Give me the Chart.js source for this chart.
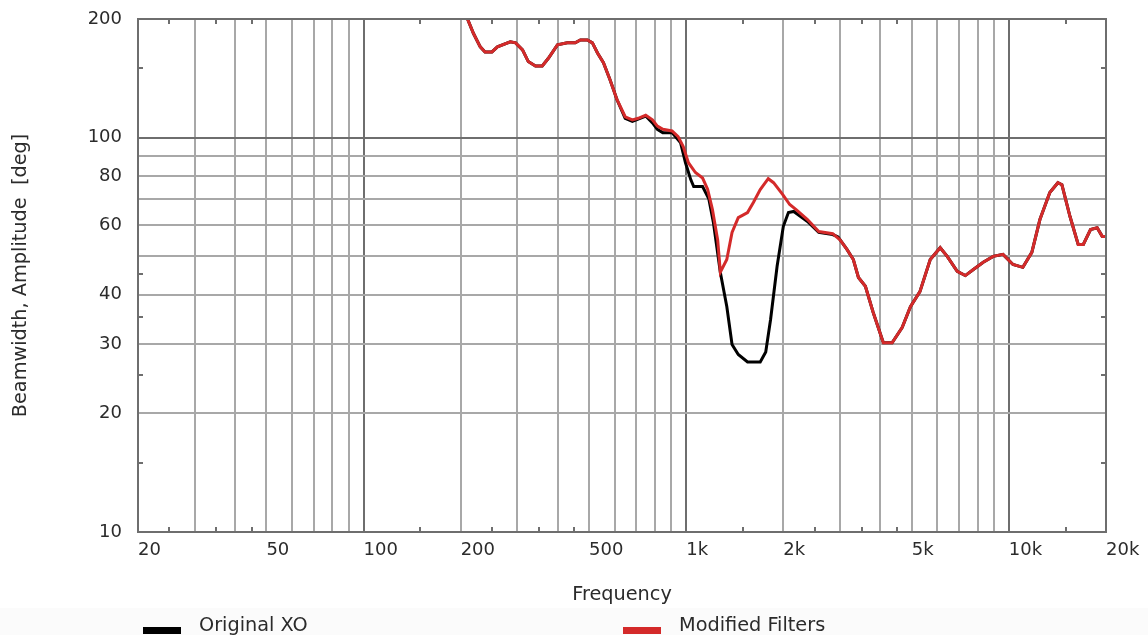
<!DOCTYPE html>
<html>
<head>
<meta charset="utf-8">
<script src="https://cdn.jsdelivr.net/npm/chart.js@4/dist/chart.umd.min.js"></script>
<style>
  body { margin: 0; background: #fff; }
  canvas { display: block; }
</style>
</head>
<body>
<canvas id="c" width="1148" height="635"></canvas>
<script>
// frequency grid / labels
var xGrid = [20, 30, 40, 50, 60, 70, 80, 90, 100, 200, 300, 400, 500, 600, 700, 800, 900,
  1000, 2000, 3000, 4000, 5000, 6000, 7000, 8000, 9000, 10000, 20000];
var xLabels = { 20: "20", 50: "50", 100: "100", 200: "200", 500: "500", 1000: "1k",
  2000: "2k", 5000: "5k", 10000: "10k", 20000: "20k" };
var xMinor = [25, 35, 45, 150, 250, 350, 450, 1500, 2500, 3500, 4500, 15000];

var yGrid = [10, 20, 30, 40, 50, 60, 70, 80, 90, 100, 200];
var yLabels = { 10: "10", 20: "20", 30: "30", 40: "40", 60: "60", 80: "80", 100: "100", 200: "200" };
var yMinor = [15, 25, 35, 45, 150];

// Modified Filters (red)
var redFreq = [207, 219, 230, 238, 250, 260, 285, 296, 311, 324, 341, 358, 374, 399, 428, 453, 470,
  494, 512, 531, 554, 581, 610, 647, 681, 710, 749, 786, 814, 847, 904, 944, 979, 1016, 1068,
  1124, 1165, 1206, 1252, 1276, 1336, 1387, 1450, 1549, 1615, 1696, 1796, 1865, 1992, 2093,
  2191, 2376, 2575, 2845, 2997, 3149, 3296, 3418, 3592, 3796, 4083, 4346, 4669, 4954, 5301,
  5706, 6126, 6440, 6918, 7328, 7762, 8328, 8940, 9591, 10296, 11050, 11780, 12480, 13395,
  14190, 14600, 15470, 16400, 17010, 17910, 18780, 19470, 20000];
var redVal = [206, 184, 170, 165, 165, 170, 175, 174, 167, 156, 152, 152, 159, 172, 174, 174, 177,
  177, 174, 164, 155, 140, 125, 113, 111, 112, 114, 111, 107, 105, 104, 100.6, 95, 86.4, 81.6,
  79, 74, 65.7, 55, 45.6, 49.1, 57.5, 62.7, 64.6, 68.5, 73.9, 78.7, 76.9, 71.7, 67.7,
  65.7, 62.0, 57.8, 57.1, 55.1, 52.1, 49.1, 44.2, 42.0, 36.1, 30.2, 30.2, 33.0, 37.3, 40.7,
  49.1, 52.6, 50.0, 45.8, 44.7, 46.3, 48.3, 50.0, 50.6, 47.7, 46.9, 51.2, 62.0, 72.6,
  76.9, 76, 63.1, 53.6, 53.6, 58.5, 59.1, 56.2, 56.2];

// Original XO (black)
var blackFreq = [207, 219, 230, 238, 250, 260, 285, 296, 311, 324, 341, 358, 374, 399, 428, 453, 470,
  494, 512, 531, 554, 581, 610, 647, 681, 710, 749, 786, 814, 846, 904, 961, 995, 1033, 1055,
  1124, 1175, 1214, 1276, 1336, 1387, 1450, 1549, 1696, 1764, 1826, 1913, 2000, 2074, 2154,
  2376, 2575, 2845, 2955, 3149, 3296, 3418, 3592, 3796, 4083, 4346, 4669, 4954, 5301,
  5706, 6126, 6440, 6918, 7328, 7762, 8328, 8940, 9591, 10296, 11050, 11780, 12480, 13395,
  14190, 14600, 15470, 16400, 17010, 17910, 18780, 19470, 20000];
var blackVal = [206, 184, 170, 165, 165, 170, 175, 174, 167, 156, 152, 152, 159, 172, 174, 174, 177,
  177, 174, 164, 155, 140, 125, 112, 110, 111.5, 113.5, 109, 105, 103, 103, 97, 86.4, 78.3, 75.2,
  75.2, 70, 61, 45.5, 37.3, 29.9, 28.2, 27.0, 27.0, 28.6, 34.6, 47.2, 59.6, 64.6, 65.0,
  61.3, 57.5, 56.8, 56, 52.1, 49.1, 44.2, 42.0, 36.1, 30.2, 30.2, 33.0, 37.3, 40.7,
  49.1, 52.6, 50.0, 45.8, 44.7, 46.3, 48.3, 50.0, 50.6, 47.7, 46.9, 51.2, 62.0, 72.6,
  76.9, 76, 63.1, 53.6, 53.6, 58.5, 59.1, 56.2, 56.2];

var FONT = "'DejaVu Sans', Verdana, sans-serif";
var TEXT = "#2b2b2b";

function toPoints(fs, vs) {
  return fs.map(function (f, i) { return { x: f, y: vs[i] }; });
}
function isDecade(v) {
  var l = Math.log10(v);
  return Math.abs(l - Math.round(l)) < 1e-6;
}
function gridColor(c) {
  return c.tick && isDecade(c.tick.value) ? "#6e6e6e" : "#a8a8a8";
}

var extras = {
  id: "extras",
  beforeDraw: function (chart) {
    var ctx = chart.ctx;
    ctx.save();
    ctx.fillStyle = "#fbfbfb";
    ctx.fillRect(0, 608, chart.width, chart.height - 608);
    ctx.restore();
  },
  afterDraw: function (chart) {
    var ctx = chart.ctx, a = chart.chartArea, x = chart.scales.x, y = chart.scales.y;
    ctx.save();
    ctx.strokeStyle = "#6e6e6e";
    ctx.lineWidth = 2;
    ctx.beginPath();
    xMinor.forEach(function (v) {
      var px = Math.round(x.getPixelForValue(v));
      ctx.moveTo(px, a.bottom); ctx.lineTo(px, a.bottom - 5);
      ctx.moveTo(px, a.top); ctx.lineTo(px, a.top + 5);
    });
    yMinor.forEach(function (v) {
      var py = Math.round(y.getPixelForValue(v));
      ctx.moveTo(a.left, py); ctx.lineTo(a.left + 5, py);
      ctx.moveTo(a.right, py); ctx.lineTo(a.right - 5, py);
    });
    ctx.stroke();
    ctx.strokeRect(a.left, a.top, a.right - a.left, a.bottom - a.top);

    // legend
    var items = [
      { label: "Original XO", color: "#000000", x: 143 },
      { label: "Modified Filters", color: "#d42a2a", x: 623 }
    ];
    ctx.font = "19.3px " + FONT;
    ctx.textBaseline = "middle";
    ctx.textAlign = "left";
    items.forEach(function (it) {
      ctx.fillStyle = it.color;
      ctx.fillRect(it.x, 627, 38, 7);
      ctx.fillStyle = TEXT;
      ctx.fillText(it.label, it.x + 56, 626);
    });
    ctx.restore();
  }
};

new Chart(document.getElementById("c"), {
  type: "line",
  data: {
    datasets: [
      {
        label: "Modified Filters",
        data: toPoints(redFreq, redVal),
        borderColor: "#d42a2a",
        borderWidth: 3,
        pointRadius: 0,
        tension: 0,
        order: 0
      },
      {
        label: "Original XO",
        data: toPoints(blackFreq, blackVal),
        borderColor: "#000000",
        borderWidth: 3,
        pointRadius: 0,
        tension: 0,
        order: 1
      }
    ]
  },
  options: {
    responsive: false,
    animation: false,
    layout: { padding: { left: 0, top: 19, right: 42, bottom: 0 } },
    plugins: { legend: { display: false }, tooltip: { enabled: false } },
    scales: {
      x: {
        type: "logarithmic",
        min: 20,
        max: 20000,
        afterBuildTicks: function (s) { s.ticks = xGrid.map(function (v) { return { value: v }; }); },
        afterFit: function (s) { s.height = 103; s.paddingLeft = 0; s.paddingRight = 0; },
        grid: { color: gridColor, lineWidth: 2, drawTicks: false },
        border: { display: false },
        ticks: {
          autoSkip: false,
          maxRotation: 0,
          align: "start",
          padding: 8,
          color: TEXT,
          font: { family: FONT, size: 18 },
          callback: function (v) { return xLabels[v] || ""; }
        },
        title: {
          display: true,
          text: "Frequency",
          color: TEXT,
          font: { family: FONT, size: 19.3 },
          padding: { top: 0, bottom: 28 }
        }
      },
      y: {
        type: "logarithmic",
        min: 10,
        max: 200,
        afterBuildTicks: function (s) { s.ticks = yGrid.map(function (v) { return { value: v }; }); },
        afterFit: function (s) { s.width = 138; s.paddingTop = 0; s.paddingBottom = 0; },
        grid: { color: gridColor, lineWidth: 2, drawTicks: false },
        border: { display: false },
        ticks: {
          autoSkip: false,
          padding: 16,
          color: TEXT,
          font: { family: FONT, size: 18 },
          callback: function (v) { return yLabels[v] || ""; }
        },
        title: {
          display: true,
          text: "Beamwidth, Amplitude  [deg]",
          color: TEXT,
          font: { family: FONT, size: 19.3 },
          padding: { top: 9, bottom: 0 }
        }
      }
    }
  },
  plugins: [extras]
});
</script>
</body>
</html>
